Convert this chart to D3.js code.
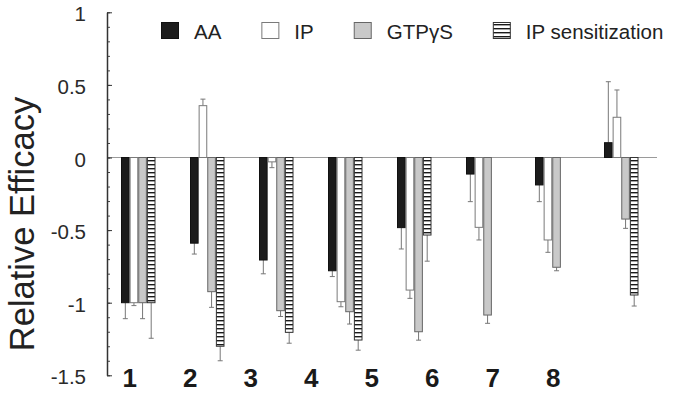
<!DOCTYPE html>
<html>
<head>
<meta charset="utf-8">
<script src="https://cdn.jsdelivr.net/npm/d3@7/dist/d3.min.js"></script>
<style>
  html, body { margin: 0; padding: 0; background: #fff; }
  svg { display: block; font-family: "Liberation Sans", Arial, Helvetica, sans-serif; }
</style>
</head>
<body>
<svg id="chart" width="673" height="393"></svg>
<script>
// ---- data ----
const groups = ["1", "2", "3", "4", "5", "6", "7", "8"];
const seriesNames = ["AA", "IP", "GTPγS", "IP sensitization"];
const aaValues   = [-1.00, -0.59, -0.706, -0.78, -0.483, -0.114, -0.189, 0.102];
const aaErrors   = [0.11, 0.075, 0.095, 0.04, 0.147, 0.19, 0.115, 0.42];
const ipValues   = [-1.00, 0.357, -0.03, -0.993, -0.913, -0.481, -0.568, 0.277];
const ipErrors   = [0.02, 0.045, 0.04, 0.035, 0.057, 0.087, 0.085, 0.188];
const gtpValues  = [-1.00, -0.924, -1.055, -1.062, -1.20, -1.085, -0.756, -0.424];
const gtpErrors  = [0.11, 0.108, 0.04, 0.085, 0.058, 0.057, 0.024, 0.064];
const sensValues = [-1.00, -1.30, -1.204, -1.257, -0.534, null, null, -0.947];
const sensErrors = [0.245, 0.10, 0.075, 0.07, 0.18, null, null, 0.076];
const yMajorTicks = [1, 0.5, 0, -0.5, -1, -1.5];
const yTickLabels = ["1", "0.5", "0", "-0.5", "-1", "-1.5"];
const yTitle = "Relative Efficacy";

const seriesValues = [aaValues, ipValues, gtpValues, sensValues];
const seriesErrors = [aaErrors, ipErrors, gtpErrors, sensErrors];

// ---- layout ----
const svg = d3.select("#chart");
const axisX = 107;
const lineEnd = 657;

const y = d3.scaleLinear().domain([-1.5, 1]).range([375.3, 12.3]);
const x = d3.scaleBand().domain(groups).range([103.75, 655.75]).paddingInner(0.5).paddingOuter(0.25);
const xs = d3.scaleBand().domain(seriesNames).range([0, x.bandwidth()]).padding(0);
const xLabel = d3.scalePoint().domain(groups).range([129.8, 553.3]);

// styles per series
const styles = {
  "AA": { fill: "#1c1c1c", stroke: "#111" },
  "IP": { fill: "#ffffff", stroke: "#7a7a7a" },
  "GTPγS": { fill: "#c9c9c9", stroke: "#666" },
  "IP sensitization": { fill: "url(#hatch)", stroke: "#333" }
};

const defs = svg.append("defs");
const pat = defs.append("pattern").attr("id", "hatch").attr("patternUnits", "userSpaceOnUse")
  .attr("width", 8).attr("height", 4);
pat.append("rect").attr("width", 8).attr("height", 4).attr("fill", "#fff");
pat.append("rect").attr("y", 0).attr("width", 8).attr("height", 1.4).attr("fill", "#1a1a1a");

// zero line
svg.append("line")
  .attr("x1", axisX).attr("x2", lineEnd)
  .attr("y1", y(0)).attr("y2", y(0))
  .attr("stroke", "#9a9a9a").attr("stroke-width", 1.2);

// bars
const barData = [];
seriesNames.forEach((s, si) => {
  groups.forEach((g, gi) => {
    const v = seriesValues[si][gi];
    if (v === null) return;
    barData.push({ g, s, v, e: seriesErrors[si][gi] });
  });
});

const barG = svg.append("g");
const errG = barG.selectAll("g.err").data(barData).join("g").attr("class", "err");
errG.each(function(d) {
  const cx = x(d.g) + xs(d.s) + xs.bandwidth() / 2;
  const tip = d.v >= 0 ? d.v + d.e : d.v - d.e;
  const sel = d3.select(this);
  sel.append("line").attr("x1", cx).attr("x2", cx).attr("y1", y(d.v)).attr("y2", y(tip))
    .attr("stroke", "#777").attr("stroke-width", 1);
  sel.append("line").attr("x1", cx - 2.5).attr("x2", cx + 2.5).attr("y1", y(tip)).attr("y2", y(tip))
    .attr("stroke", "#777").attr("stroke-width", 1);
});

barG.selectAll("rect.bar").data(barData).join("rect").attr("class", "bar")
  .attr("x", d => x(d.g) + xs(d.s) + 0.5)
  .attr("width", xs.bandwidth() - 1)
  .attr("y", d => Math.min(y(d.v), y(0)))
  .attr("height", d => Math.abs(y(d.v) - y(0)))
  .attr("fill", d => styles[d.s].fill)
  .attr("stroke", d => styles[d.s].stroke)
  .attr("stroke-width", 1);

// y axis: minor ticks
const minorTicks = d3.range(-15, 11).map(i => i / 10);
const minorAxis = d3.axisLeft(y).tickValues(minorTicks).tickSizeInner(-3).tickSizeOuter(0).tickFormat("");
const gMinor = svg.append("g").attr("transform", `translate(${axisX},0)`).call(minorAxis);
gMinor.select(".domain").remove();
gMinor.selectAll(".tick line").attr("stroke", "#444");

const majorAxis = d3.axisLeft(y).tickValues(yMajorTicks).tickSizeInner(-5).tickSizeOuter(0)
  .tickPadding(21).tickFormat((d, i) => yTickLabels[i]);
const gMajor = svg.append("g").attr("transform", `translate(${axisX},0)`).call(majorAxis);
gMajor.select(".domain").attr("stroke", "#333").attr("stroke-width", 1.5);
gMajor.selectAll(".tick line").attr("stroke", "#333");
gMajor.selectAll(".tick text")
  .attr("font-size", 20.5).attr("fill", "#2a2a2a")
  .attr("font-family", "\"Liberation Sans\", Arial, sans-serif")
  .attr("dy", "0.42em");

// y title
svg.append("text")
  .attr("transform", `translate(34,224) rotate(-90)`)
  .attr("text-anchor", "middle")
  .attr("font-size", 34.5)
  .attr("fill", "#222")
  .text(yTitle);

// x labels
svg.append("g").selectAll("text").data(groups).join("text")
  .attr("x", d => xLabel(d))
  .attr("y", 386.5)
  .attr("text-anchor", "middle")
  .attr("font-size", 26)
  .attr("font-weight", "bold")
  .attr("fill", "#1a1a1a")
  .text(d => d);

// legend
const legend = svg.append("g");
let lx = 161;
seriesNames.forEach(s => {
  const it = legend.append("g");
  it.append("rect").attr("x", lx + 0.5).attr("y", 22.5).attr("width", 17).attr("height", 16)
    .attr("fill", styles[s].fill).attr("stroke", styles[s].stroke).attr("stroke-width", 1);
  const t = it.append("text").attr("x", lx + 33).attr("y", 38.5)
    .attr("font-size", 20.5).attr("fill", "#222").text(s);
  const w = t.node().getComputedTextLength();
  lx = lx + 33 + w + 40;
});
</script>
</body>
</html>
